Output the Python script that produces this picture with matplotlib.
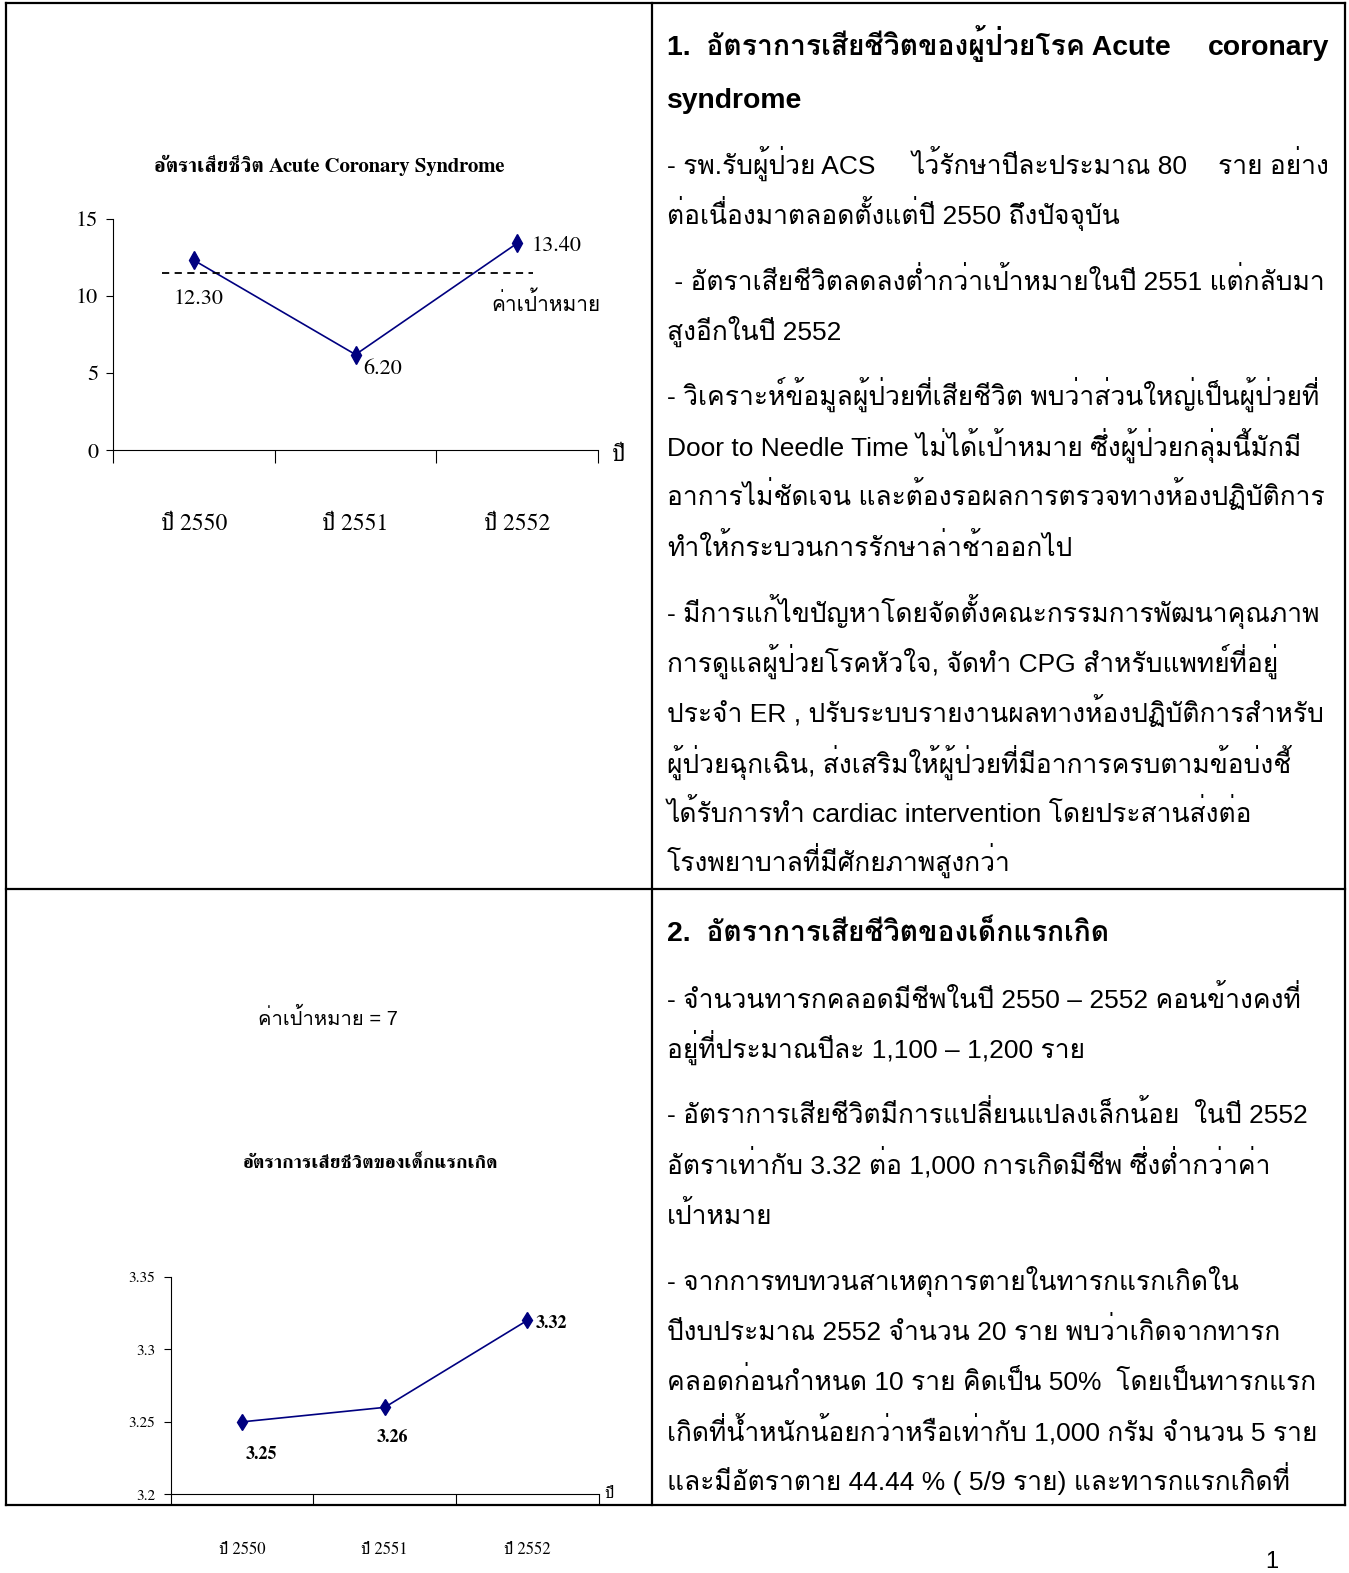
import matplotlib
matplotlib.use('Agg')
import matplotlib.pyplot as plt
import matplotlib.transforms as mtransforms

W, H = 1349, 1573

# ---- data ----
years = ['ปี 2550', 'ปี 2551', 'ปี 2552']

acs_title = 'อัตราเสียชีวิต Acute Coronary Syndrome'
acs_rate = [12.30, 6.20, 13.40]
acs_labels = ['12.30', '6.20', '13.40']
acs_target = 11.5
acs_yticks = [0, 5, 10, 15]

nb_title = 'อัตราการเสียชีวิตของเด็กแรกเกิด'
nb_rate = [3.25, 3.26, 3.32]
nb_labels = ['3.25', '3.26', '3.32']
nb_target_note = 'ค่าเป้าหมาย = 7'
nb_yticks = [3.2, 3.25, 3.3, 3.35]

sec1_lines = [
    'ต่อเนื่องมาตลอดตั้งแต่ปี 2550 ถึงปัจจุบัน',
    ' - อัตราเสียชีวิตลดลงต่ำกว่าเป้าหมายในปี 2551 แต่กลับมา',
    'สูงอีกในปี 2552',
    '- วิเคราะห์ข้อมูลผู้ป่วยที่เสียชีวิต พบว่าส่วนใหญ่เป็นผู้ป่วยที่',
    'Door to Needle Time ไม่ได้เป้าหมาย ซึ่งผู้ป่วยกลุ่มนี้มักมี',
    'อาการไม่ชัดเจน และต้องรอผลการตรวจทางห้องปฏิบัติการ',
    'ทำให้กระบวนการรักษาล่าช้าออกไป',
    '- มีการแก้ไขปัญหาโดยจัดตั้งคณะกรรมการพัฒนาคุณภาพ',
    'การดูแลผู้ป่วยโรคหัวใจ, จัดทำ CPG สำหรับแพทย์ที่อยู่',
    'ประจำ ER , ปรับระบบรายงานผลทางห้องปฏิบัติการสำหรับ',
    'ผู้ป่วยฉุกเฉิน, ส่งเสริมให้ผู้ป่วยที่มีอาการครบตามข้อบ่งชี้',
    'ได้รับการทำ cardiac intervention โดยประสานส่งต่อ',
    'โรงพยาบาลที่มีศักยภาพสูงกว่า',
]
sec1_y = [213, 279, 329, 394, 444, 494, 544, 610, 660, 710, 760, 810, 858]

sec2_lines = [
    '- จำนวนทารกคลอดมีชีพในปี 2550 – 2552 คอนข้างคงที่',
    'อยู่ที่ประมาณปีละ 1,100 – 1,200 ราย',
    '- อัตราการเสียชีวิตมีการแปลี่ยนแปลงเล็กน้อย  ในปี 2552',
    'อัตราเท่ากับ 3.32 ต่อ 1,000 การเกิดมีชีพ ซึ่งต่ำกว่าค่า',
    'เป้าหมาย',
    '- จากการทบทวนสาเหตุการตายในทารกแรกเกิดใน',
    'ปีงบประมาณ 2552 จำนวน 20 ราย พบว่าเกิดจากทารก',
    'คลอดก่อนกำหนด 10 ราย คิดเป็น 50%  โดยเป็นทารกแรก',
    'เกิดที่น้ำหนักน้อยกว่าหรือเท่ากับ 1,000 กรัม จำนวน 5 ราย',
    'และมีอัตราตาย 44.44 % ( 5/9 ราย) และทารกแรกเกิดที่',
]
sec2_y = [995, 1045, 1110, 1160, 1210, 1276, 1326, 1376, 1426, 1476]

SANS = ['Liberation Sans', 'Loma']
SERIF = ['FreeSerif', 'Loma']
NAVY = '#000080'
S = 1349 / 1345.0  # reference-preview to full-size pixels

fig = plt.figure(figsize=(W / 100, H / 100), dpi=100)


def px_axes(left, top, right, bottom):
    return fig.add_axes([left / W, 1 - bottom / H, (right - left) / W, (bottom - top) / H])


# page overlay in pixel coordinates
page = fig.add_axes([0, 0, 1, 1])
page.set_xlim(0, W)
page.set_ylim(H, 0)
page.axis('off')
page.set_zorder(5)
page.patch.set_alpha(0)

# table frame
lw = 1.6
for x0, y0, x1, y1 in [(6, 3, 1345, 3), (6, 889, 1345, 889), (6, 1505, 1345, 1505),
                       (6, 3, 6, 1505), (652, 3, 652, 1505), (1345, 3, 1345, 1505)]:
    page.plot([x0, x1], [y0, y1], color='black', lw=lw, solid_capstyle='projecting')

TX = 667
FS = 19
FSB = 20.4
page.text(TX, (45 + 10) * S, '1.  อัตราการเสียชีวิตของผู้ป่วยโรค Acute', family=SANS,
          fontsize=FSB, fontweight='bold', va='baseline')
page.text(1329, (45 + 10) * S, 'coronary', family=SANS, fontsize=FSB, fontweight='bold',
          va='baseline', ha='right')
page.text(TX, (98 + 10) * S, 'syndrome', family=SANS, fontsize=FSB, fontweight='bold', va='baseline')
page.text(TX, (163 + 10) * S, '- รพ.รับผู้ป่วย ACS', family=SANS, fontsize=FS, va='baseline')
page.text(912, (163 + 10) * S, 'ไว้รักษาปีละประมาณ 80', family=SANS, fontsize=FS, va='baseline')
page.text(1329, (163 + 10) * S, 'ราย อย่าง', family=SANS, fontsize=FS, va='baseline', ha='right')
for line, y in zip(sec1_lines, sec1_y):
    page.text(TX, (y + 10) * S, line, family=SANS, fontsize=FS, va='baseline')

page.text(TX, (928 + 10) * S, '2.  อัตราการเสียชีวิตของเด็กแรกเกิด', family=SANS,
          fontsize=FSB, fontweight='bold', va='baseline')
for line, y in zip(sec2_lines, sec2_y):
    page.text(TX, (y + 10) * S, line, family=SANS, fontsize=FS, va='baseline')

page.text(1272, 1562, '1', family=SANS, fontsize=17, va='center', ha='center')


def style_axes(ax, ymin, ymax, yticks, ytick_fs, tick_len):
    ax.set_xlim(-0.5, 2.5)
    ax.set_ylim(ymin, ymax)
    for side in ['top', 'right']:
        ax.spines[side].set_visible(False)
    for side in ['left', 'bottom']:
        ax.spines[side].set_linewidth(0.8)
    ax.set_yticks(yticks)
    ax.set_yticklabels([('%g' % v) for v in yticks], family=SERIF, fontsize=ytick_fs)
    ax.tick_params(axis='y', direction='out', length=5, width=0.8, pad=6)
    ax.set_xticks([-0.5, 0.5, 1.5, 2.5])
    ax.set_xticklabels([])
    ax.tick_params(axis='x', direction='out', length=tick_len, width=0.8)
    ax.patch.set_alpha(0)


# ---- chart 1: ACS ----
ax1 = px_axes(113 * S, 218 * S, 596 * S, 449 * S)
style_axes(ax1, 0, 15, acs_yticks, 16, 9)
ax1.plot(range(3), acs_rate, color=NAVY, lw=1.2, marker='d', ms=9, mfc=NAVY, mec=NAVY)
ax1.plot([-0.2, 2.1], [acs_target, acs_target], color='black', lw=1.3, ls=(0, (4, 3)))
offs1 = [(4, -39, 'center'), (27, -15, 'center'), (14, -3, 'left')]
for i, (dx, dy, ha) in enumerate(offs1):
    ax1.annotate(acs_labels[i], (i, acs_rate[i]), xytext=(dx * 0.72, dy * 0.72),
                 textcoords='offset points', ha=ha, va='center', family=SERIF, fontsize=16)
ax1.text(1.84, 9.55, 'ค่าเป้าหมาย', family=SANS, fontsize=15, ha='left', va='center')
tr1 = mtransforms.blended_transform_factory(ax1.transData, ax1.transAxes)
for i, lab in enumerate(years):
    ax1.text(i, -0.318, lab, transform=tr1, family=SERIF, fontsize=17, ha='center', va='center')
ax1.text(1.03, -0.02, 'ปี', transform=ax1.transAxes, family=SERIF, fontsize=17,
         ha='left', va='center')
page.text(328 * S, 165 * S, acs_title, family=SERIF, fontsize=15, fontweight='bold',
          ha='center', va='center')

# ---- chart 2: newborn ----
ax2 = px_axes(170 * S, 1273 * S, 597 * S, 1490 * S)
style_axes(ax2, 3.2, 3.35, nb_yticks, 11, 8)
ax2.plot(range(3), nb_rate, color=NAVY, lw=1.2, marker='d', ms=8, mfc=NAVY, mec=NAVY)
offs2 = [(20, -33), (8, -30), (24, -3)]
for i, (dx, dy) in enumerate(offs2):
    ax2.annotate(nb_labels[i], (i, nb_rate[i]), xytext=(dx * 0.72, dy * 0.72),
                 textcoords='offset points', ha='center', va='center', family=SERIF,
                 fontsize=13, fontweight='bold')
tr2 = mtransforms.blended_transform_factory(ax2.transData, ax2.transAxes)
for i, lab in enumerate(years):
    ax2.text(i, -0.253, lab, transform=tr2, family=SERIF, fontsize=12, ha='center', va='center')
ax2.text(1.012, 0.0, 'ปี', transform=ax2.transAxes, family=SERIF, fontsize=12,
         ha='left', va='center')
page.text(370 * S, 1160 * S, nb_title, family=SERIF, fontsize=14, fontweight='bold',
          ha='center', va='center')
page.text(327 * S, 1015 * S, nb_target_note, family=SANS, fontsize=14.5, ha='center', va='center')

fig.savefig('out.png', dpi=100)
